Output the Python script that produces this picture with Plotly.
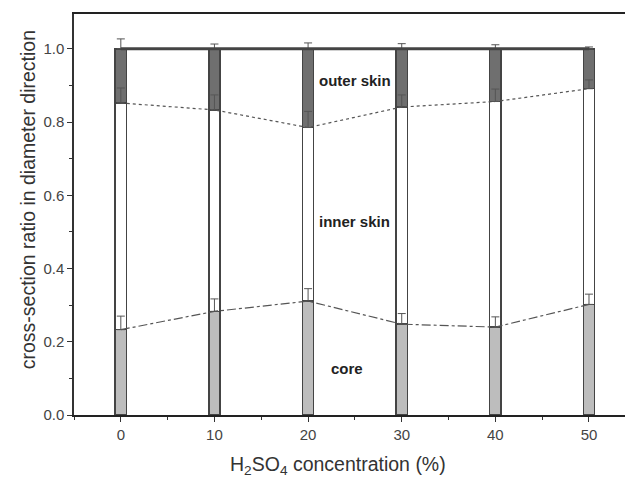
import plotly.graph_objects as go

conc = [0, 10, 20, 30, 40, 50]
core = [0.233, 0.283, 0.311, 0.248, 0.240, 0.302]
core_err = [0.037, 0.034, 0.034, 0.029, 0.028, 0.028]
inner_top = [0.852, 0.833, 0.785, 0.841, 0.856, 0.891]
inner_err = [0.041, 0.041, 0.044, 0.033, 0.034, 0.024]
outer_top = [1.0, 1.0, 1.0, 1.0, 1.0, 1.0]
outer_err = [0.027, 0.013, 0.016, 0.014, 0.011, 0.005]

inner = [t - c for t, c in zip(inner_top, core)]
outer = [o - t for o, t in zip(outer_top, inner_top)]

fig = go.Figure()
edge = dict(color="#444444", width=1.5)
fig.add_bar(x=conc, y=core, width=1.2, marker=dict(color="#bdbdbd", line=edge), showlegend=False)
fig.add_bar(x=conc, y=inner, width=1.2, marker=dict(color="white", line=edge), showlegend=False)
fig.add_bar(x=conc, y=outer, width=1.2, marker=dict(color="#6f6f6f", line=edge), showlegend=False)

eb = lambda arr: dict(type="data", array=arr, arrayminus=[0] * len(arr), color="#555555", thickness=1, width=4)

fig.add_scatter(x=conc, y=core, mode="lines", line=dict(color="#555555", width=1.2, dash="dashdot"),
                error_y=eb(core_err), showlegend=False)
fig.add_scatter(x=conc, y=inner_top, mode="lines", line=dict(color="#555555", width=1.2, dash="dot"),
                error_y=eb(inner_err), showlegend=False)
fig.add_scatter(x=conc, y=outer_top, mode="lines", line=dict(color="#444444", width=3),
                error_y=eb(outer_err), showlegend=False)

labels = [("outer skin", 25.0, 0.913), ("inner skin", 25.0, 0.528), ("core", 24.2, 0.128)]
for txt, xx, yy in labels:
    fig.add_annotation(x=xx, y=yy, text="<b>" + txt + "</b>", showarrow=False,
                       font=dict(family="Liberation Sans, Arial", size=15, color="#222222"))

# axis titles
fig.add_annotation(xref="paper", yref="paper", x=0.472, y=-0.127, xanchor="center", yanchor="middle",
                   text="H<sub>2</sub>SO<sub>4</sub> concentration (%)", showarrow=False,
                   font=dict(family="Liberation Sans, Arial", size=19.5, color="#333333"))
fig.add_annotation(xref="paper", yref="paper", x=-0.082, y=0.536, xanchor="center", yanchor="middle",
                   textangle=-90,
                   text="cross-section ratio in diameter direction", showarrow=False,
                   font=dict(family="Liberation Sans, Arial", size=19.5, color="#333333"))

fig.update_layout(
    width=625, height=470,
    margin=dict(l=66, r=0, t=6, b=63, autoexpand=False),
    barmode="stack",
    plot_bgcolor="white", paper_bgcolor="white",
    font=dict(family="Liberation Sans, Arial", size=15, color="#444444"),
)
fig.update_xaxes(
    range=[-5, 54.7], tickvals=conc, ticks="outside", ticklen=5, tickcolor="#333333",
    showline=True, linecolor="#222222", linewidth=1.5, mirror=True, showgrid=False, zeroline=False,
    automargin=False,
    minor=dict(dtick=5, tick0=0, ticks="outside", ticklen=3, tickcolor="#333333"),
)
fig.update_yaxes(
    range=[0, 1.095], tickvals=[0, 0.2, 0.4, 0.6, 0.8, 1.0], tickformat=".1f",
    ticks="outside", ticklen=5, tickcolor="#333333",
    showline=True, linecolor="#333333", linewidth=1.5, showgrid=False, zeroline=False,
    automargin=False,
    minor=dict(dtick=0.1, tick0=0, ticks="outside", ticklen=3, tickcolor="#333333"),
)

fig.write_html("out.html")
